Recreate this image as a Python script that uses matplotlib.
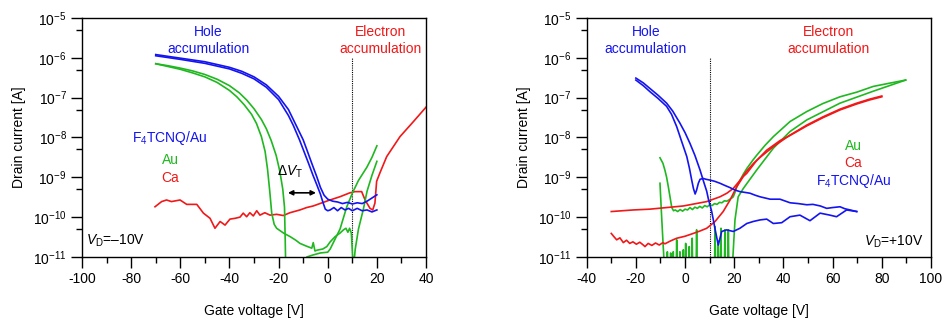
import numpy as np
import matplotlib
matplotlib.use("Agg")
import matplotlib.pyplot as plt
from matplotlib.ticker import MultipleLocator, LogLocator, NullFormatter

plt.rcParams['font.family'] = ['Liberation Sans', 'DejaVu Sans']
plt.rcParams['mathtext.fontset'] = 'custom'
plt.rcParams['mathtext.rm'] = 'Liberation Sans'
plt.rcParams['mathtext.it'] = 'Liberation Sans:italic'
plt.rcParams['mathtext.bf'] = 'Liberation Sans:bold'
plt.rcParams['axes.unicode_minus'] = False

BLUE = '#1414f0'
GREEN = '#20b820'
RED = '#f01818'

# ---- datos: V_D = -10 V (log10 de la corriente) ----
f4_l1_v = [-70, -60, -50, -40, -35, -30, -25, -20, -16, -12.6, -10, -8.5, -6.5, -4.5, -3, -1.5,
           0, 2, 4, 6, 8, 10, 12, 14, 16, 18, 20]
f4_l1_log = [-5.92, -6.01, -6.10, -6.24, -6.34, -6.48, -6.68, -6.97, -7.30, -7.73, -8.06, -8.31,
             -8.65, -8.98, -9.25, -9.45, -9.55, -9.60, -9.62, -9.66, -9.63, -9.67, -9.64, -9.66,
             -9.60, -9.52, -9.44]
f4_l2_v = [-70, -60, -50, -40, -35, -30, -25, -20, -16, -14, -11.5, -10, -8, -6, -4.5, -3, -2, -1,
           0, 1, 2.5, 4, 5.5, 7, 8.5, 10, 12, 14, 16, 18, 20]
f4_l2_log = [-5.95, -6.04, -6.14, -6.28, -6.39, -6.53, -6.74, -7.05, -7.45, -7.70, -8.06, -8.30,
             -8.62, -8.95, -9.18, -9.42, -9.62, -9.80, -9.84, -9.82, -9.76, -9.84, -9.76, -9.82,
             -9.78, -9.84, -9.78, -9.84, -9.82, -9.87, -9.82]

au_l1_v = [-70, -65, -60, -55, -50, -45, -40, -36, -33, -30, -27, -25, -23, -21, -19.5, -18.3,
           -17.6, -17.3, -17.0, -9.5, -8.5, -6, -3, 0, 1, 3, 5, 7.7, 10, 12.5, 15.9, 18, 20]
au_l1_log = [-6.15, -6.20, -6.26, -6.33, -6.42, -6.54, -6.70, -6.88, -7.06, -7.28, -7.55, -7.78,
             -8.08, -8.45, -8.85, -9.30, -9.75, -10.6, -11.6, -11.3, -11.0, -10.95, -10.90, -10.88,
             -10.80, -10.55, -10.30, -9.75, -9.40, -9.08, -8.75, -8.50, -8.21]
au_l2_v = [-70, -65, -60, -55, -50, -45, -40, -37, -34, -31, -29, -27, -25.5, -24.5, -23.6, -22.8,
           -21.8, -20.8, -18, -15.3, -13, -11.3, -9, -6.5, -5.9, -5.2, -4.4, -2, -0.4, 1, 3, 5,
           6.4, 7.4, 8.2, 8.9, 9.6, 10.4, 11.2, 12.5, 14.5, 16, 18, 20]
au_l2_log = [-6.15, -6.22, -6.29, -6.38, -6.48, -6.62, -6.82, -6.98, -7.18, -7.42, -7.65, -7.98,
             -8.35, -8.80, -9.35, -9.90, -10.18, -10.28, -10.40, -10.49, -10.58, -10.66, -10.72,
             -10.78, -10.64, -10.85, -10.83, -10.80, -10.74, -10.62, -10.49, -10.40, -10.32,
             -10.28, -10.38, -10.28, -10.40, -11.3, -10.8, -10.30, -9.80, -9.35, -8.95, -8.60]

ca_l_v = [-70.3, -67.6, -65.6, -63.6, -60.1, -57.4, -53.3, -50.6, -47.9, -45.9, -43.8, -41.8,
          -39.8, -37.7, -35.7, -34.4, -33.0, -31.7, -30.3, -28.9, -27.6, -25.6, -23.5, -20.8,
          -18.1, -15.4, -11.3, -8.6, -5.9, -3.2, 0.9, 4.9, 9.0, 11.1, 13.8, 15.2, 17.2, 18.3, 19.2,
          19.9, 21.3, 24, 29.4, 34.9, 40]
ca_l_log = [-9.74, -9.61, -9.57, -9.61, -9.57, -9.68, -9.68, -9.90, -10.03, -10.28, -10.11,
            -10.20, -10.05, -10.03, -10.00, -9.90, -9.99, -9.89, -9.97, -9.84, -9.95, -9.89, -9.95,
            -9.93, -9.96, -9.89, -9.82, -9.76, -9.72, -9.66, -9.57, -9.49, -9.39, -9.36, -9.36,
            -9.57, -9.78, -9.82, -9.65, -9.10, -8.88, -8.48, -7.98, -7.60, -7.24]

# ---- datos: V_D = +10 V ----
f4_r1_v = [-20, -17, -14.3, -11, -7.5, -5, -2.1, 0, 2, 4, 6.1, 7.5, 8.8, 9.5, 10.8, 11.5, 12.2,
           13.5, 14.9, 16.9, 19.6, 22.3, 25.1, 27.7, 30.5, 33.2, 35.9, 39.3, 42.7, 46.7, 50.8,
           54.9, 58.9, 61.6, 65.7, 69.8]
f4_r1_log = [-6.51, -6.63, -6.77, -6.94, -7.14, -7.34, -7.64, -7.88, -8.15, -8.45, -8.82, -9.10,
             -9.35, -9.55, -9.85, -10.07, -10.30, -10.70, -10.36, -10.32, -10.36, -10.28, -10.16,
             -10.11, -10.07, -10.05, -10.16, -10.14, -9.99, -9.95, -10.09, -9.90, -9.95, -9.99,
             -9.82, -9.86]
f4_r2_v = [-20, -17, -14.3, -11, -7.5, -5.5, -3.4, -1.5, 0.7, 1.8, 2.7, 3.4, 4.1, 4.7, 5.4, 6.1,
           7.4, 8.5, 10.1, 12, 14.2, 16, 18.3, 20.3, 22.3, 24.4, 26.4, 28.5, 30.5, 34.6, 38.6,
           42.7, 46, 49.5, 52, 55, 57.6, 60, 63, 65, 67.1, 69.8]
f4_r2_log = [-6.56, -6.70, -6.85, -7.02, -7.22, -7.42, -7.73, -8.08, -8.48, -8.78, -9.07, -9.28,
             -9.42, -9.32, -9.15, -9.05, -9.03, -9.05, -9.07, -9.10, -9.15, -9.20, -9.26, -9.32,
             -9.36, -9.38, -9.40, -9.45, -9.49, -9.55, -9.55, -9.64, -9.66, -9.69, -9.68, -9.72,
             -9.78, -9.76, -9.74, -9.79, -9.82, -9.86]

ca_r1_v = [-30, -21, -14.3, -0.7, 8.8, 14.2, 17, 19.6, 22.3, 25, 28, 30.5, 35.9, 42.7, 49.5, 56.2,
           63, 69.8, 75, 80]
ca_r1_log = [-9.86, -9.82, -9.80, -9.72, -9.61, -9.49, -9.40, -9.28, -9.08, -8.85, -8.64, -8.50,
             -8.23, -7.94, -7.69, -7.48, -7.29, -7.14, -7.04, -6.96]
ca_r2_v = [-30, -28.8, -27.8, -26.5, -25.1, -23.8, -22.5, -21.2, -19.8, -18.4, -17, -16.3, -15,
           -13.5, -12, -10.5, -9, -8.2, -6, -3.4, 0, 3.3, 6, 8.8, 12.2, 15.5, 18.3, 21, 23.7,
           25.1, 29.1, 33.2, 38.6, 42.7, 49.5, 56.2, 63, 69.8, 75, 80]
ca_r2_log = [-10.41, -10.50, -10.57, -10.52, -10.64, -10.58, -10.66, -10.62, -10.68, -10.63,
             -10.70, -10.74, -10.66, -10.71, -10.65, -10.70, -10.64, -10.67, -10.60, -10.53,
             -10.48, -10.41, -10.35, -10.28, -10.11, -9.86, -9.57, -9.24, -8.98, -8.90, -8.58,
             -8.32, -8.08, -7.95, -7.71, -7.50, -7.31, -7.16, -7.06, -6.98]

au_r1_v = [-10.2, -9, -8.2, -7.5, -6.8, -6.1, -5.4, -4.7, -4, -3, -2, -1, 0, 1, 2, 3, 4, 5, 6, 7,
           8, 9, 10, 11, 12, 13, 14, 15, 16, 17, 18, 19, 19.6, 20.3, 21, 22.3, 23.7, 25.1, 27.7,
           29.1, 32.5, 35.9, 42.7, 49.5, 56, 63, 70, 76.5, 83, 89.7]
au_r1_log = [-8.51, -8.65, -8.82, -9.00, -9.24, -9.50, -9.76, -9.84, -9.82, -9.86, -9.81, -9.85,
             -9.80, -9.82, -9.76, -9.81, -9.75, -9.78, -9.73, -9.77, -9.71, -9.74, -9.69, -9.71,
             -9.66, -9.68, -9.63, -9.64, -9.59, -9.60, -9.56, -9.52, -9.49, -9.38, -9.24, -9.08,
             -8.92, -8.78, -8.56, -8.45, -8.20, -7.98, -7.60, -7.35, -7.15, -6.98, -6.86, -6.72,
             -6.64, -6.56]
au_r2_v = [-10.2, -9.6, -9.0, -8.2, -7.5, -7.2, -6.9, -6.1, -5.85, -5.6, -5.05, -4.8, -4.55,
           -3.65, -3.4, -3.15, -2.35, -2.1, -1.85, -0.95, -0.7, -0.45, 0.0, 0.25, 0.5, 1.45, 1.7,
           1.95, 2.65, 2.9, 3.15, 4.45, 4.7, 4.95, 11.95, 12.2, 12.45, 13.25, 13.5, 13.75, 14.35,
           14.6, 14.85, 15.95, 16.2, 16.45, 17.35, 17.6, 17.85, 19.0, 20.3, 21.6, 23.7, 25.1,
           29.1, 35.9, 42.7, 49.5, 63.0, 76.5, 89.7]
au_r2_log = [-9.15, -9.9, -10.6, -11.5, -11.5, -10.87, -11.5, -11.5, -10.90, -11.5, -11.5, -10.87,
             -11.5, -11.5, -10.57, -11.5, -11.5, -10.87, -11.5, -11.5, -10.82, -11.5, -11.5,
             -10.66, -11.5, -11.5, -10.74, -11.5, -11.5, -10.53, -11.5, -11.5, -10.32, -11.5,
             -11.5, -10.24, -11.5, -11.5, -10.60, -11.5, -11.5, -10.28, -11.5, -11.5, -10.32,
             -11.5, -11.5, -10.32, -11.5, -11.5, -10.07, -9.49, -9.28, -9.16, -8.82, -8.27,
             -7.85, -7.56, -7.14, -6.84, -6.56]

v_umbral = 10
dvt_inicio, dvt_fin, dvt_log = -16.2, -4.8, -9.39


def estilo(ax, xmin, xmax):
    ax.set_yscale('log')
    ax.set_xlim(xmin, xmax)
    ax.set_ylim(1e-11, 1e-5)
    ax.xaxis.set_major_locator(MultipleLocator(20))
    ax.xaxis.set_minor_locator(MultipleLocator(10))
    ax.yaxis.set_major_locator(LogLocator(base=10, numticks=10))
    ax.yaxis.set_minor_locator(LogLocator(base=10, subs=[5], numticks=10))
    ax.yaxis.set_minor_formatter(NullFormatter())
    ax.tick_params(which='major', direction='out', length=8, width=1, labelsize=10, pad=3)
    ax.tick_params(which='minor', direction='out', length=4, width=1)
    ax.tick_params(top=False, right=False, which='both')
    for s in ax.spines.values():
        s.set_linewidth(1)
    ax.set_xlabel('Gate voltage [V]', fontsize=10, labelpad=13)
    ax.set_ylabel('Drain current [A]', fontsize=10, labelpad=5)
    ax.plot([v_umbral, v_umbral], [1e-11, 1e-6], color='black', lw=0.8, ls=(0, (1, 1)))


def curva(ax, v, lg, color):
    ax.plot(v, 10.0 ** np.array(lg), color=color, lw=1.2)


fig = plt.figure(figsize=(9.44, 3.2), dpi=100)
ax1 = fig.add_axes([0.0869, 0.197, 0.3644, 0.747])
ax2 = fig.add_axes([0.6215, 0.197, 0.3647, 0.747])

estilo(ax1, -100, 40)
curva(ax1, ca_l_v, ca_l_log, RED)
curva(ax1, au_l1_v, au_l1_log, GREEN)
curva(ax1, au_l2_v, au_l2_log, GREEN)
curva(ax1, f4_l1_v, f4_l1_log, BLUE)
curva(ax1, f4_l2_v, f4_l2_log, BLUE)

ax1.text(0.368, 0.905, 'Hole\naccumulation', color=BLUE, fontsize=10, ha='center', va='center',
         transform=ax1.transAxes, linespacing=1.25)
ax1.text(0.869, 0.905, 'Electron\naccumulation', color=RED, fontsize=10, ha='center', va='center',
         transform=ax1.transAxes, linespacing=1.25)
ax1.text(0.256, 0.499, 'F$_4$TCNQ/Au', color=BLUE, fontsize=10, ha='center', va='center',
         transform=ax1.transAxes)
ax1.text(0.256, 0.406, 'Au', color=GREEN, fontsize=10, ha='center', va='center', transform=ax1.transAxes)
ax1.text(0.256, 0.332, 'Ca', color=RED, fontsize=10, ha='center', va='center', transform=ax1.transAxes)
ax1.text(0.012, 0.068, '$\\it{V}_{\\rm D}$=\u201310V', fontsize=10, ha='left', va='center',
         transform=ax1.transAxes)
ax1.annotate('', xy=(dvt_fin, 10 ** dvt_log), xytext=(dvt_inicio, 10 ** dvt_log),
             arrowprops=dict(arrowstyle='<|-|>', color='black', lw=1.2, mutation_scale=7,
                             shrinkA=0, shrinkB=0))
ax1.text(-15.3, 10 ** -8.85, '$\\Delta$$\\it{V}_{\\rm T}$', fontsize=10, ha='center', va='center')

estilo(ax2, -40, 100)
curva(ax2, au_r2_v, au_r2_log, GREEN)
curva(ax2, au_r1_v, au_r1_log, GREEN)
curva(ax2, ca_r1_v, ca_r1_log, RED)
curva(ax2, ca_r2_v, ca_r2_log, RED)
curva(ax2, f4_r1_v, f4_r1_log, BLUE)
curva(ax2, f4_r2_v, f4_r2_log, BLUE)

ax2.text(0.172, 0.905, 'Hole\naccumulation', color=BLUE, fontsize=10, ha='center', va='center',
         transform=ax2.transAxes, linespacing=1.25)
ax2.text(0.703, 0.905, 'Electron\naccumulation', color=RED, fontsize=10, ha='center', va='center',
         transform=ax2.transAxes, linespacing=1.25)
ax2.text(0.775, 0.466, 'Au', color=GREEN, fontsize=10, ha='center', va='center', transform=ax2.transAxes)
ax2.text(0.775, 0.392, 'Ca', color=RED, fontsize=10, ha='center', va='center', transform=ax2.transAxes)
ax2.text(0.775, 0.318, 'F$_4$TCNQ/Au', color=BLUE, fontsize=10, ha='center', va='center',
         transform=ax2.transAxes)
ax2.text(0.978, 0.062, '$\\it{V}_{\\rm D}$=+10V', fontsize=10, ha='right', va='center',
         transform=ax2.transAxes)

fig.savefig('out.png', dpi=100)
